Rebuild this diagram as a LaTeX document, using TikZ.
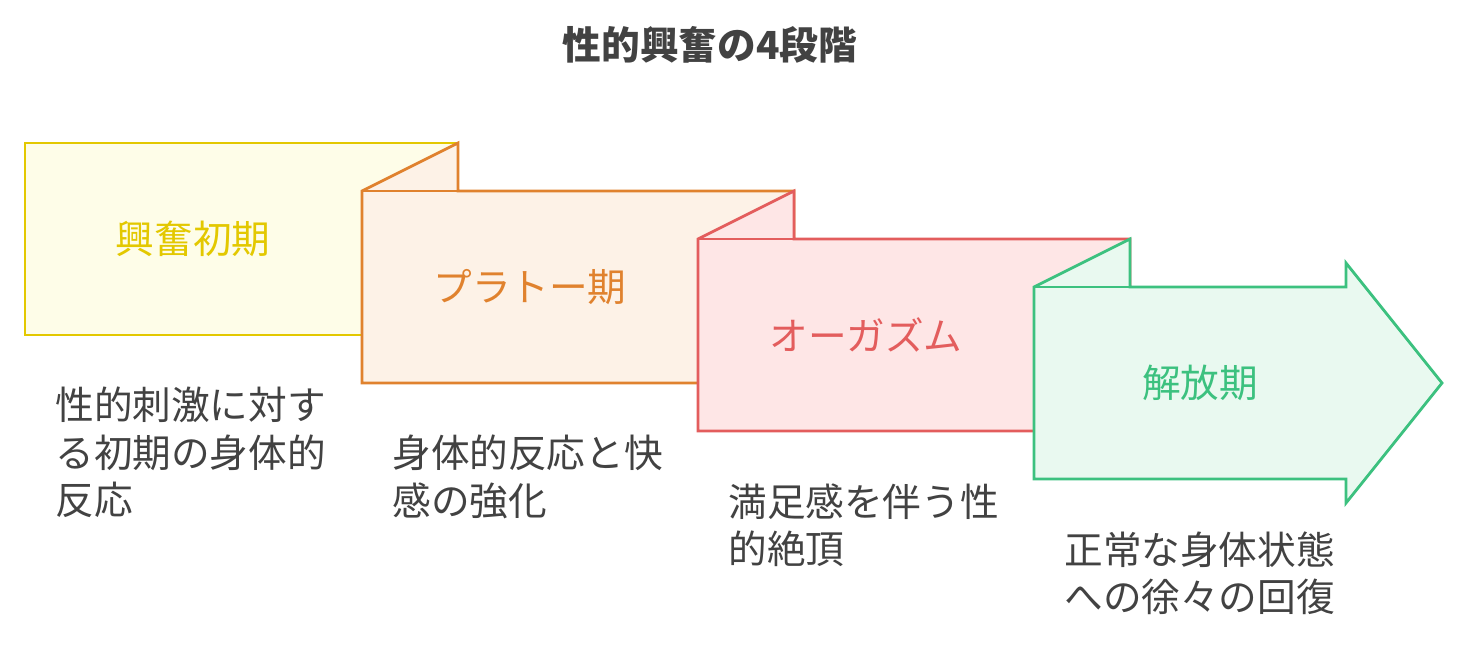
\documentclass[tikz,border=0pt]{standalone}
\usepackage{fontspec}
\setmainfont{Noto Sans CJK JP}
\definecolor{ylw}{HTML}{E3C800}\definecolor{ylwf}{HTML}{FEFDE8}
\definecolor{org}{HTML}{E0822E}\definecolor{orgf}{HTML}{FDF2E7}
\definecolor{rd}{HTML}{E35D5D}\definecolor{rdf}{HTML}{FEE6E6}
\definecolor{grn}{HTML}{3CC17F}\definecolor{grnf}{HTML}{E9F9F0}
\definecolor{txt}{HTML}{424242}
\tikzset{
  panel/.style={line width=1.6pt, line join=miter},
  stage/.style={font=\fontsize{22}{26}\selectfont},
  desc/.style={font=\fontsize{22}{27}\selectfont, text=txt, align=left, anchor=north west, inner sep=0pt}
}
\begin{document}
\begin{tikzpicture}[x=0.02cm,y=-0.02cm]
        \useasboundingbox (0,0) rectangle (1469,648);

        \node[font=\bfseries\fontsize{22}{26}\selectfont, text=txt] (title) at (710,45) {性的興奮の4段階};

        % panels
        \draw[panel, draw=ylw, fill=ylwf] (25,143) rectangle (458,335);
        \draw[panel, draw=org, fill=orgf] (362,191) -- (458,143) -- (458,191) -- (794,191) -- (794,383) -- (362,383) -- cycle;
        \draw[panel, draw=org] (458,191) -- (362,191);
        \draw[panel, draw=rd, fill=rdf] (698,239) -- (794,191) -- (794,239) -- (1130,239) -- (1130,431) -- (698,431) -- cycle;
        \draw[panel, draw=rd] (794,239) -- (698,239);
        \draw[panel, draw=grn, fill=grnf] (1034,287) -- (1130,239) -- (1130,287) -- (1346,287) -- (1346,263) -- (1442,383)
              -- (1346,503) -- (1346,479) -- (1034,479) -- cycle;
        \draw[panel, draw=grn] (1130,287) -- (1034,287);

        \node[stage, text=ylw] (early) at (193,239) {興奮初期};
        \node[stage, text=org] (plateau) at (530,287) {プラトー期};
        \node[stage, text=rd] (orgasm) at (866,335) {オーガズム};
        \node[stage, text=grn] (release) at (1200,383) {解放期};

        \node[desc] (d1) at (55,387) {性的刺激に対す\\る初期の身体的\\反応};
        \node[desc] (d2) at (392,435) {身体的反応と快\\感の強化};
        \node[desc] (d3) at (728,483) {満足感を伴う性\\的絶頂};
        \node[desc] (d4) at (1064,531) {正常な身体状態\\への徐々の回復};
\end{tikzpicture}
\end{document}
